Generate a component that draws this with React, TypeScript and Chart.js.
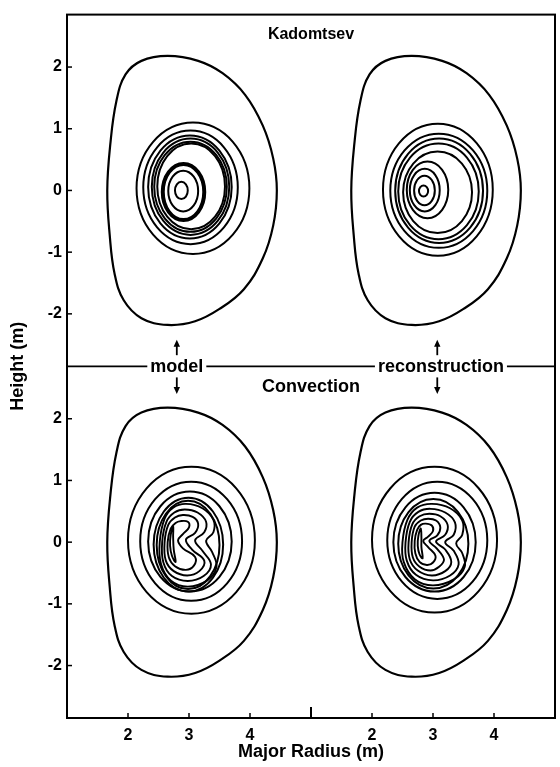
import { useEffect, useRef } from 'react';
import { Chart, registerables } from 'chart.js';

Chart.register(...registerables);

type Pt = [number, number];
// [R left, R right, Z top, Z bottom]
type Ring = [number, number, number, number];

// The four panels share one pair of axes: the reconstruction column is
// shifted right by RIGHT_SHIFT and the Kadomtsev row is shifted up by TOP_SHIFT.
const RIGHT_SHIFT = 4;
const TOP_SHIFT = 5.7;
const ROW_SPLIT = 2.85;
const X_MIN = 1;
const X_MAX = 9;
const Y_MIN = -2.85;
const Y_MAX = 8.55;

const X_TICKS = [2, 3, 4, 6, 7, 8];
const Y_TICKS = [-2, -1, 0, 1, 2, 3.7, 4.7, 5.7, 6.7, 7.7];

// Plasma boundary (R, Z) in metres, shared by all four panels
const BOUNDARY: Pt[] = [
  [4.44, 0.0], [4.38, 0.52], [4.21, 1.05], [3.92, 1.55], [3.55, 1.9],
  [3.15, 2.1], [2.65, 2.18], [2.22, 2.1], [1.96, 1.88], [1.81, 1.45],
  [1.71, 0.75], [1.66, 0.0], [1.7, -0.72], [1.78, -1.35], [1.93, -1.78],
  [2.22, -2.07], [2.65, -2.18], [3.1, -2.12], [3.5, -1.92], [3.9, -1.6],
  [4.21, -1.1], [4.38, -0.57],
];

const KADOMTSEV_MODEL_RINGS: Ring[] = [
  [2.14, 3.99, 1.1, -1.03],
  [2.25, 3.8, 0.97, -0.87],
  [2.33, 3.7, 0.89, -0.78],
  [2.39, 3.66, 0.84, -0.72],
  [2.43, 3.62, 0.79, -0.67],
  [2.48, 3.59, 0.76, -0.63],
  [2.66, 3.15, 0.32, -0.34],
  [2.77, 2.98, 0.14, -0.14],
];
const KADOMTSEV_MODEL_CORE: Ring[] = [[2.57, 3.25, 0.43, -0.48]];

const KADOMTSEV_RECON_RINGS: Ring[] = [
  [2.18, 3.98, 1.08, -1.06],
  [2.3, 3.89, 0.92, -0.93],
  [2.38, 3.82, 0.84, -0.85],
  [2.43, 3.75, 0.76, -0.79],
  [2.51, 3.64, 0.63, -0.69],
  [2.57, 3.25, 0.47, -0.45],
  [2.62, 3.11, 0.35, -0.34],
  [2.69, 3.03, 0.24, -0.24],
  [2.77, 2.92, 0.08, -0.1],
];

const CONVECTION_MODEL_RINGS: Ring[] = [
  [2.0, 4.08, 1.22, -1.16],
  [2.2, 3.87, 0.98, -0.95],
  [2.33, 3.7, 0.82, -0.8],
  [2.42, 3.56, 0.72, -0.8],
  [2.47, 3.5, 0.67, -0.76],
];
const CONVECTION_MODEL_ISLANDS: Pt[][] = [
  [[2.95, 0.62], [3.22, 0.55], [3.4, 0.36], [3.4, 0.16], [3.28, 0.02], [3.38, -0.16], [3.45, -0.4],
   [3.3, -0.62], [2.98, -0.72], [2.7, -0.62], [2.54, -0.35], [2.52, 0.0], [2.6, 0.38], [2.74, 0.56]],
  [[2.93, 0.53], [3.14, 0.48], [3.28, 0.33], [3.25, 0.16], [3.1, 0.03], [3.22, -0.14], [3.36, -0.36],
   [3.24, -0.55], [2.98, -0.63], [2.72, -0.55], [2.58, -0.33], [2.56, 0.0], [2.63, 0.33], [2.76, 0.48]],
  [[2.9, 0.44], [3.06, 0.41], [3.15, 0.3], [3.1, 0.15], [2.95, 0.04], [3.05, -0.12], [3.25, -0.3],
   [3.17, -0.47], [2.97, -0.54], [2.75, -0.47], [2.62, -0.3], [2.6, 0.0], [2.66, 0.28], [2.77, 0.4]],
  [[2.86, 0.34], [2.98, 0.33], [3.0, 0.24], [2.9, 0.13], [2.82, 0.03], [2.9, -0.1], [3.1, -0.24],
   [3.08, -0.38], [2.95, -0.45], [2.77, -0.39], [2.67, -0.25], [2.65, 0.0], [2.7, 0.22], [2.78, 0.31]],
  [[2.74, 0.26], [2.7, 0.12], [2.69, -0.06], [2.72, -0.22], [2.78, -0.32], [2.75, -0.12], [2.74, 0.08]],
];

const CONVECTION_RECON_RINGS: Ring[] = [
  [2.0, 4.05, 1.22, -1.14],
  [2.25, 3.89, 0.98, -0.92],
  [2.35, 3.7, 0.8, -0.8],
  [2.43, 3.58, 0.7, -0.75],
];
const CONVECTION_RECON_ISLANDS: Pt[][] = [
  [[2.98, 0.62], [3.28, 0.55], [3.48, 0.35], [3.48, 0.12], [3.38, -0.02], [3.48, -0.18], [3.52, -0.4],
   [3.35, -0.6], [3.0, -0.7], [2.7, -0.6], [2.52, -0.32], [2.5, 0.0], [2.58, 0.36], [2.74, 0.56]],
  [[2.96, 0.54], [3.2, 0.48], [3.36, 0.32], [3.34, 0.12], [3.2, 0.0], [3.34, -0.14], [3.42, -0.36],
   [3.28, -0.54], [3.0, -0.62], [2.72, -0.53], [2.57, -0.3], [2.55, 0.0], [2.62, 0.33], [2.76, 0.49]],
  [[2.94, 0.46], [3.12, 0.42], [3.24, 0.28], [3.2, 0.12], [3.05, 0.01], [3.2, -0.12], [3.3, -0.32],
   [3.2, -0.47], [2.98, -0.54], [2.75, -0.46], [2.62, -0.28], [2.6, 0.0], [2.66, 0.29], [2.78, 0.42]],
  [[2.92, 0.38], [3.05, 0.35], [3.12, 0.24], [3.07, 0.11], [2.94, 0.02], [3.06, -0.1], [3.18, -0.28],
   [3.1, -0.4], [2.96, -0.46], [2.78, -0.4], [2.67, -0.25], [2.65, 0.0], [2.7, 0.25], [2.8, 0.35]],
  [[2.88, 0.3], [2.98, 0.27], [3.0, 0.18], [2.92, 0.09], [2.84, 0.02], [2.92, -0.08], [3.04, -0.22],
   [3.0, -0.33], [2.9, -0.37], [2.78, -0.32], [2.71, -0.18], [2.7, 0.02], [2.74, 0.2], [2.8, 0.28]],
  [[2.8, 0.22], [2.76, 0.1], [2.75, -0.06], [2.78, -0.2], [2.83, -0.26], [2.81, -0.08], [2.81, 0.08]],
];

const FONT = "'Liberation Sans', Arial, Helvetica, sans-serif";
const INK = '#000';

// Extreme points of a ring; a tension of 0.55 turns four points into an ellipse
function ringPoints([l, r, t, b]: Ring): Pt[] {
  const rc = (l + r) / 2;
  const zc = (t + b) / 2;
  return [[r, zc], [rc, t], [l, zc], [rc, b]];
}

// Closed contour: wrap the points so every visible segment has both neighbours,
// then hide the two extra end segments.
function contour(points: Pt[], dx: number, dy: number, tension: number, width: number) {
  const n = points.length;
  const seq = [points[n - 1], ...points, points[0], points[1]];
  return {
    data: seq.map(([r, z]) => ({ x: r + dx, y: z + dy })),
    showLine: true,
    borderColor: INK,
    borderWidth: width,
    borderCapStyle: 'round' as const,
    borderJoinStyle: 'round' as const,
    pointRadius: 0,
    pointHoverRadius: 0,
    pointHitRadius: 0,
    tension,
    fill: false,
    segment: {
      borderColor: (ctx: any) =>
        ctx.p0DataIndex === 0 || ctx.p0DataIndex === n + 1 ? 'rgba(0,0,0,0)' : undefined,
    },
  };
}

function panel(rings: Ring[], islands: Pt[][], dx: number, dy: number) {
  return [
    contour(BOUNDARY, dx, dy, 0.4, 2.2),
    ...rings.map((r) => contour(ringPoints(r), dx, dy, 0.55, 2)),
    ...islands.map((p) => contour(p, dx, dy, 0.4, 1.9)),
  ];
}

const frameAndLabels = {
  id: 'frameAndLabels',
  afterDatasetsDraw(chart: any) {
    const { ctx, chartArea: a, scales } = chart;
    const xs = scales.x;
    const ys = scales.y;
    const px = (v: number) => xs.getPixelForValue(v);
    const py = (v: number) => ys.getPixelForValue(v);
    const seg = (x1: number, y1: number, x2: number, y2: number) => {
      ctx.beginPath();
      ctx.moveTo(x1, y1);
      ctx.lineTo(x2, y2);
      ctx.stroke();
    };
    ctx.save();
    ctx.strokeStyle = INK;
    ctx.fillStyle = INK;

    // frame
    ctx.lineWidth = 2;
    ctx.strokeRect(a.left, a.top, a.right - a.left, a.bottom - a.top);

    // row divider
    const yd = py(ROW_SPLIT);
    ctx.lineWidth = 1.7;
    seg(a.left, yd, a.right, yd);

    // inward tick marks
    ctx.lineWidth = 1.5;
    X_TICKS.forEach((v) => seg(px(v), a.bottom, px(v), a.bottom - 5));
    ctx.lineWidth = 2;
    seg(px(5), a.bottom, px(5), a.bottom - 11);
    ctx.lineWidth = 1.5;
    Y_TICKS.forEach((v) => seg(a.left, py(v), a.left + 5, py(v)));

    // row titles
    ctx.textAlign = 'center';
    ctx.textBaseline = 'middle';
    ctx.font = `bold 16px ${FONT}`;
    ctx.fillText('Kadomtsev', px(5), py(8.22));
    ctx.font = `bold 18px ${FONT}`;
    ctx.fillText('Convection', px(5), py(2.51));

    // column labels sitting on the divider
    const tag = (text: string, x: number) => {
      const w = ctx.measureText(text).width;
      ctx.fillStyle = '#fff';
      ctx.fillRect(px(x) - w / 2 - 3, yd - 9, w + 6, 18);
      ctx.fillStyle = INK;
      ctx.fillText(text, px(x), yd + 1);
    };
    tag('model', 2.8);
    tag('reconstruction', 7.13);

    // arrows pointing to the panels above and below
    const arrow = (x: number, y0: number, y1: number) => {
      const X = px(x);
      const Y0 = py(y0);
      const Y1 = py(y1);
      const dir = Y1 > Y0 ? 1 : -1;
      ctx.lineWidth = 1.8;
      seg(X, Y0, X, Y1 - dir * 5);
      ctx.beginPath();
      ctx.moveTo(X, Y1);
      ctx.lineTo(X - 3.2, Y1 - dir * 7);
      ctx.lineTo(X + 3.2, Y1 - dir * 7);
      ctx.closePath();
      ctx.fill();
    };
    [2.8, 7.07].forEach((x) => {
      arrow(x, 3.03, 3.28);
      arrow(x, 2.67, 2.4);
    });
    ctx.restore();
  },
};

export default function App() {
  const canvasRef = useRef<HTMLCanvasElement | null>(null);

  useEffect(() => {
    const canvas = canvasRef.current;
    if (!canvas) return;
    const tickFont = { family: FONT, size: 16, weight: 'bold' as const };
    const titleFont = { family: FONT, size: 18, weight: 'bold' as const };

    const datasets = [
      ...panel(KADOMTSEV_MODEL_RINGS, [], 0, TOP_SHIFT),
      ...KADOMTSEV_MODEL_CORE.map((r) => contour(ringPoints(r), 0, TOP_SHIFT, 0.55, 4)),
      ...panel(KADOMTSEV_RECON_RINGS, [], RIGHT_SHIFT, TOP_SHIFT),
      ...panel(CONVECTION_MODEL_RINGS, CONVECTION_MODEL_ISLANDS, 0, 0),
      ...panel(CONVECTION_RECON_RINGS, CONVECTION_RECON_ISLANDS, RIGHT_SHIFT, 0),
    ];

    const chart = new Chart(canvas, {
      type: 'scatter',
      data: { datasets: datasets as any },
      plugins: [frameAndLabels],
      options: {
        responsive: false,
        animation: false,
        events: [],
        layout: { padding: { top: 10, right: 5, left: 0, bottom: 0 } },
        plugins: { legend: { display: false }, tooltip: { enabled: false } },
        scales: {
          x: {
            type: 'linear',
            min: X_MIN,
            max: X_MAX,
            grid: { display: false, drawTicks: false },
            border: { display: false },
            afterBuildTicks: (s: any) => {
              s.ticks = X_TICKS.map((v) => ({ value: v }));
            },
            afterFit: (s: any) => {
              s.height = 49;
            },
            ticks: {
              color: INK,
              font: tickFont,
              padding: 8,
              maxRotation: 0,
              autoSkip: false,
              callback: (v: any) => String(Math.round(v > 5 ? v - RIGHT_SHIFT : v)),
            },
            title: {
              display: true,
              text: 'Major Radius (m)',
              color: INK,
              font: titleFont,
              padding: { top: 0, bottom: 4 },
            },
          },
          y: {
            type: 'linear',
            min: Y_MIN,
            max: Y_MAX,
            grid: { display: false, drawTicks: false },
            border: { display: false },
            afterBuildTicks: (s: any) => {
              s.ticks = Y_TICKS.map((v) => ({ value: v }));
            },
            afterFit: (s: any) => {
              s.width = 67;
            },
            ticks: {
              color: INK,
              font: tickFont,
              padding: 5,
              autoSkip: false,
              callback: (v: any) => String(Math.round(v > ROW_SPLIT ? v - TOP_SHIFT : v)),
            },
            title: {
              display: true,
              text: 'Height (m)',
              color: INK,
              font: titleFont,
              padding: { top: 7, bottom: 0 },
            },
          },
        },
      },
    });
    return () => chart.destroy();
  }, []);

  return (
    <div style={{ position: 'absolute', left: 0, top: 0, width: 560, height: 767, background: '#fff' }}>
      <canvas ref={canvasRef} width={560} height={767} style={{ display: 'block' }} />
    </div>
  );
}
